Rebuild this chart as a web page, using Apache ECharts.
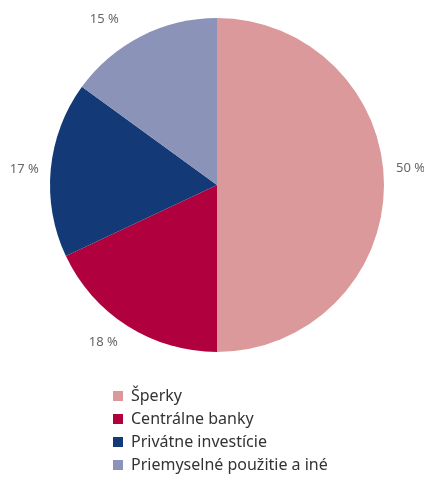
<!DOCTYPE html>
<html>
<head>
<meta charset="utf-8">
<script src="https://cdn.jsdelivr.net/npm/echarts@6/dist/echarts.min.js"></script>
<style>
  html, body { margin: 0; padding: 0; background: #fff; }
  #chart { width: 424px; height: 480px; }
</style>
</head>
<body>
<div id="chart"></div>
<script>
// podiel dopytu po zlate
var categories = ['Šperky', 'Centrálne banky', 'Privátne investície', 'Priemyselné použitie a iné'];
var shares = [50, 18, 17, 15];
var colors = ['#DB999C', '#B0003E', '#133A76', '#8C93B8'];

var chart = echarts.init(document.getElementById('chart'));

var pieData = categories.map(function (name, i) {
    return { name: name, value: shares[i], itemStyle: { color: colors[i] } };
});
// posun popisov ako v originali
pieData[0].label = { offset: [0, -17] };
pieData[1].label = { offset: [0, 12] };
pieData[3].label = { offset: [-13, -12] };

var option = {
    animation: false,
    legend: {
        orient: 'vertical',
        left: 108,
        top: 383,
        icon: 'rect',
        itemWidth: 10,
        itemHeight: 10,
        itemGap: 7,
        selectedMode: false,
        textStyle: {
            fontFamily: 'Noto Sans',
            fontSize: 16,
            color: '#333',
            padding: [0, 0, 0, 3]
        },
        data: categories
    },
    series: [
        {
            type: 'pie',
            left: 0,
            top: 0,
            width: 520,
            height: 480,
            center: [217, 185],
            radius: [0, 167],
            startAngle: 90,
            clockwise: true,
            silent: true,
            avoidLabelOverlap: false,
            label: {
                show: true,
                position: 'outside',
                formatter: '{c} %',
                fontFamily: 'Noto Sans',
                fontSize: 13,
                color: '#666',
                overflow: 'none'
            },
            labelLine: {
                show: false,
                length: 5,
                length2: 2
            },
            data: pieData
        }
    ]
};

chart.setOption(option);
</script>
</body>
</html>
